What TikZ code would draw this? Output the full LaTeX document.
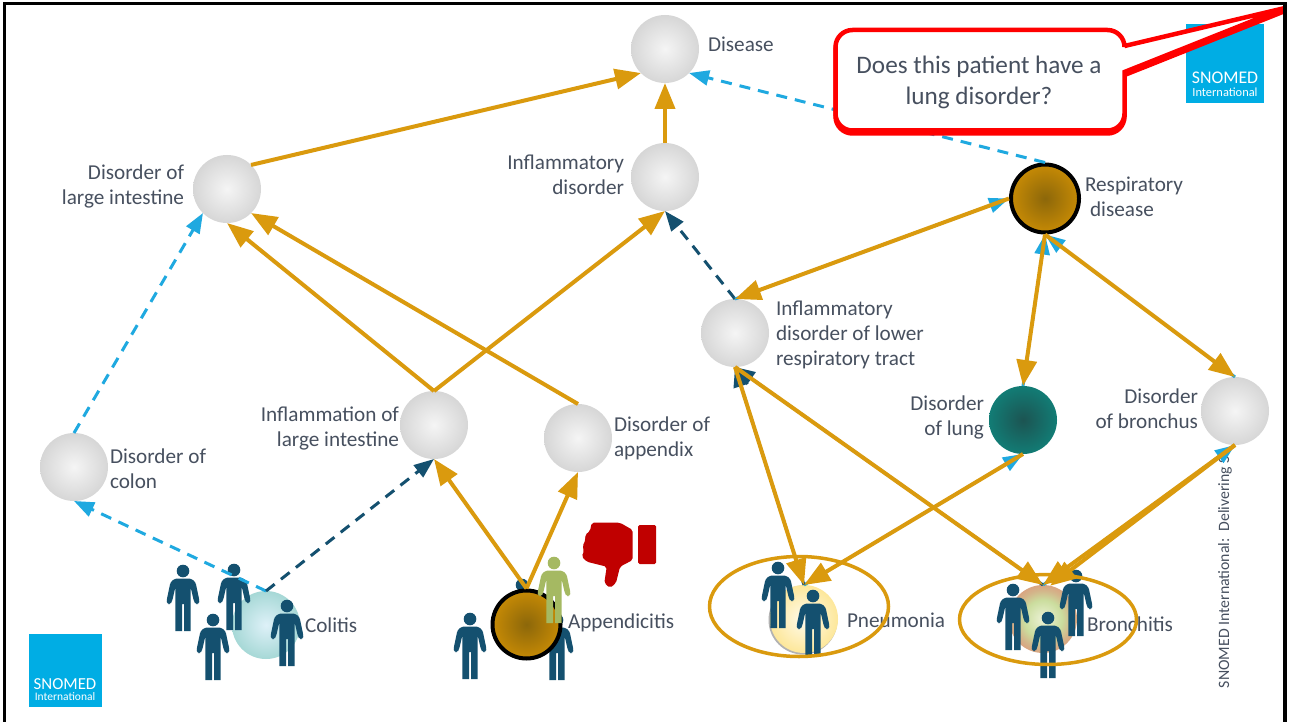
\documentclass[tikz,border=0pt]{standalone}
\usepackage{fontspec}
\setmainfont{Carlito}
\usetikzlibrary{arrows.meta}
\definecolor{gold}{HTML}{DA9A0E}
\definecolor{skyb}{HTML}{1FA9E0}
\definecolor{darkb}{HTML}{14506F}
\definecolor{txt}{HTML}{47505F}
\definecolor{logo}{HTML}{00ADE4}
\definecolor{olive}{HTML}{A5B962}
\definecolor{thumb}{HTML}{C00000}
\definecolor{callred}{HTML}{FF0000}
\definecolor{brA}{HTML}{ECF2D6}
\definecolor{brB}{HTML}{CBDD9E}
\definecolor{brC}{HTML}{D3B58A}
\definecolor{brD}{HTML}{D9A582}
\pgfdeclareradialshading{bronch}{\pgfpointorigin}{color(0bp)=(brA);color(14bp)=(brB);color(21bp)=(brC);color(25bp)=(brD);color(50bp)=(brD)}
\tikzset{
  x=1pt,y=-1pt,
  every node/.style={outer sep=0pt,inner sep=0pt,text=txt},
  lab/.style={font=\fontsize{21.2}{25}\selectfont},
  labl/.style={lab,anchor=west,align=left},
  labr/.style={lab,anchor=east,align=right},
  ball/.style={circle,minimum size=68pt},
  greyball/.style={ball,inner color=white!96!black,outer color=white!84!black},
  brownball/.style={ball,minimum size=68pt,outer sep=2pt,draw=black,line width=4pt,inner color={rgb,255:red,140;green,103;blue,10},outer color={rgb,255:red,198;green,138;blue,5}},
  goldline/.style={draw=gold,line width=4pt,-{Triangle[length=26pt,width=20pt]}},
  skydash/.style={draw=skyb,line width=3pt,dash pattern=on 11pt off 8pt,-{Triangle[length=20pt,width=15pt]}},
  darkdash/.style={draw=darkb,line width=3pt,dash pattern=on 11pt off 8pt,-{Triangle[length=20pt,width=15pt]}},
  ring/.style={draw=gold,line width=3.5pt},
  person/.pic={
    \fill[pic actions] (0,0) circle[radius=6.3];
    \fill[pic actions,rounded corners=2.5pt] (-8,7.5) -- (8,7.5) -- (12.5,11) -- (16.5,30) -- (15.5,33) -- (12.5,33) -- (10.8,30) -- (7.6,16) [sharp corners] -- (7.6,60) -- (1,60) -- (1,33) -- (-1,33) -- (-1,60) -- (-7.6,60) -- (-7.6,16) [rounded corners=2.5pt] -- (-10.8,30) -- (-12.5,33) -- (-15.5,33) -- (-16.5,30) -- (-12.5,11) -- cycle;
  },
  bluep/.style={fill=darkb},
  logotext/.style={text=white},
}
\newcommand{\calloutoutline}{[rounded corners=17pt] (835.5,80) -- (835.5,30) -- (1124.5,30) [sharp corners] -- (1124.5,46) -- (1285,8) -- (1124.5,72) [rounded corners=17pt] -- (1124.5,130.5) -- (835.5,130.5) -- cycle}
\begin{document}
\begin{tikzpicture}
\useasboundingbox (0,0) rectangle (1292,722);
\fill[white] (0,0) rectangle (1292,722);
% logos
\node[fill=logo,minimum width=78pt,minimum height=79pt] (logoTop) at (1225,63.5) {};
\node[logotext,font=\fontsize{17.8}{18}\selectfont] (logoTopA) at (1225,78) {SNOMED};
\node[logotext,font=\fontsize{12.4}{13}\selectfont] (logoTopB) at (1225,92) {International};
\node[fill=logo,minimum width=73pt,minimum height=73pt] (logoBot) at (65.5,670.5) {};
\node[logotext,font=\fontsize{16.8}{17}\selectfont] (logoBotA) at (65,684) {SNOMED};
\node[logotext,font=\fontsize{11.5}{12}\selectfont] (logoBotB) at (65,696.5) {International};
% footer
\node[rotate=90,anchor=west,font=\fontsize{15.8}{16}\selectfont] (footer) at (1225,688) {SNOMED International:\ \ Delivering S};
% people behind the appendicitis ball
\pic[bluep] at (522,585) {person};
\pic[bluep] at (557,620) {person};
% balls
\node[greyball] (disease) at (665,49) {};
\node[greyball] (inflam) at (665,177) {};
\node[greyball] (largeint) at (227,189) {};
\node[brownball] (resp) at (1045,198.5) {};
\node[greyball] (lrt) at (735,333) {};
\node[ball,inner color={rgb,255:red,28;green,84;blue,82},outer color={rgb,255:red,18;green,124;blue,117}] (lung) at (1023,420) {};
\node[greyball] (bronchus) at (1235,411) {};
\node[greyball] (colon) at (74,467) {};
\node[greyball] (inflamli) at (434,425) {};
\node[greyball] (appendix) at (578,438) {};
\node[ball,inner color={rgb,255:red,222;green,241;blue,248},outer color={rgb,255:red,166;green,216;blue,214}] (colitis) at (266,625) {};
\node[brownball] (appendicitis) at (526.5,624.5) {};
\fill[black!30] (803,620) circle[radius=34.5];
\node[ball,inner color={rgb,255:red,255;green,251;blue,236},outer color={rgb,255:red,253;green,231;blue,154}] (pneumonia) at (804,619) {};
\node[ball,shading=bronch] (bronchitis) at (1043,619) {};
% labels
\node[labl] (tDisease) at (708,44.5) {Disease};
\node[labr] (tInflam) at (624,174.5) {Inflammatory\\disorder};
\node[labr] (tLarge) at (184,186.5) {Disorder of\\large intestine};
\node[labl] (tResp) at (1085,196.5) {Respiratory\\\hspace*{5pt}disease};
\node[labl] (tLrt) at (776,335) {Inflammatory\\disorder of lower\\respiratory tract};
\node[labr] (tLung) at (984,417.5) {Disorder\\of lung};
\node[labr] (tBronchus) at (1198,409) {Disorder\\of bronchus};
\node[labl] (tColon) at (110,469) {Disorder of\\colon};
\node[labr] (tInflamli) at (399,428.5) {Inflammation of\\large intestine};
\node[labl] (tAppendix) at (614,438) {Disorder of\\appendix};
\node[labl] (tColitis) at (305,625) {Colitis};
\node[labl] (tAppendicitis) at (568,623) {Appendicitis};
\node[labl] (tPneumonia) at (847,620) {Pneumonia};
\node[labl] (tBronchitis) at (1087,624) {Bronchitis};
% people in front
\pic[bluep] at (183,571) {person};
\pic[bluep] at (234,570) {person};
\pic[bluep] at (213,620) {person};
\pic[bluep] at (287,606) {person};
\pic[bluep] at (470,619) {person};
\pic[fill=olive] at (554,563) {person};
\pic[bluep] at (778,568) {person};
\pic[bluep] at (813,596) {person};
\pic[bluep] at (1013,590) {person};
\pic[bluep] at (1076,576) {person};
\pic[bluep] at (1048,618) {person};
% thumb
\fill[thumb,rounded corners=2pt] (591.7,522.7) -- (620,522.7) -- (632.7,530) -- (632.7,560) -- (620,566.7) -- (616,583) -- (610,588) -- (604.3,583) -- (606.7,566.7) -- (586.7,561.7) -- (581.7,556.7) -- (584,551) -- (582.5,546) -- (585.5,540) -- (585,535) -- (590,531) -- cycle;
\fill[thumb,rounded corners=1.5pt] (638,525) -- (656,525) -- (656,564) -- (638,564) -- cycle;
% dashed relations
\draw[skydash] (colitis.north) -- (colon.south);
\draw[darkdash] (colitis.north) -- (inflamli.south);
\draw[skydash] (colon.north) -- (largeint.south west);
\draw[darkdash] (lrt.north) -- (inflam.south);
\draw[skydash] (resp.north) -- (disease.south east);
\draw[skydash] (lrt.north) -- (resp.west);
\draw[skydash] (lung.north) -- (resp.south);
\draw[skydash] (bronchus.north) -- (resp.south);
\draw[skydash] (pneumonia.north) -- (lung.south);
\draw[skydash] (bronchitis.north) -- (bronchus.south);
\draw[darkdash] (pneumonia.north) -- (lrt.south);
\draw[darkdash] (bronchitis.north) -- (lrt.south);
% gold relations
\draw[goldline] (largeint.north east) -- (disease.south west);
\draw[goldline] (inflam.north) -- (disease.south);
\draw[goldline] (inflamli.north) -- (largeint.south);
\draw[goldline] (appendix.north) -- (largeint.south east);
\draw[goldline] (inflamli.north) -- (inflam.south);
\draw[goldline] (appendicitis.north) -- (inflamli.south);
\draw[goldline] (appendicitis.north) -- (appendix.south);
\draw[goldline] (resp.west) -- (lrt.north);
\draw[goldline] (resp.south) -- (lung.north);
\draw[goldline] (resp.south) -- (bronchus.north);
\draw[goldline] (lung.south) -- (pneumonia.north);
\draw[goldline] (lrt.south) -- (pneumonia.north);
\draw[goldline] (lrt.south) -- (bronchitis.north);
\draw[goldline] (bronchus.south) -- (bronchitis.north);
\draw[goldline] (bronchus.south) -- (bronchitis.78);
% rings
\draw[ring] (799,606.5) ellipse[x radius=89.5,y radius=50];
\draw[ring] (1048,619.5) ellipse[x radius=88.5,y radius=45];
% callout
\begin{scope}[shift={(0,3)}]
\draw[callred,fill=callred,line width=4.5pt] \calloutoutline;
\end{scope}
\draw[callred,fill=white,line width=4.5pt] \calloutoutline;
\node[font=\fontsize{25.2}{31}\selectfont,align=center] (callout) at (979,82.5) {Does this patient have a\\lung disorder?};
% frame
\draw[black,line width=3.5pt] (4.5,722) -- (4.5,3.5) -- (1285,3.5) -- (1285,722);
\end{tikzpicture}
\end{document}
